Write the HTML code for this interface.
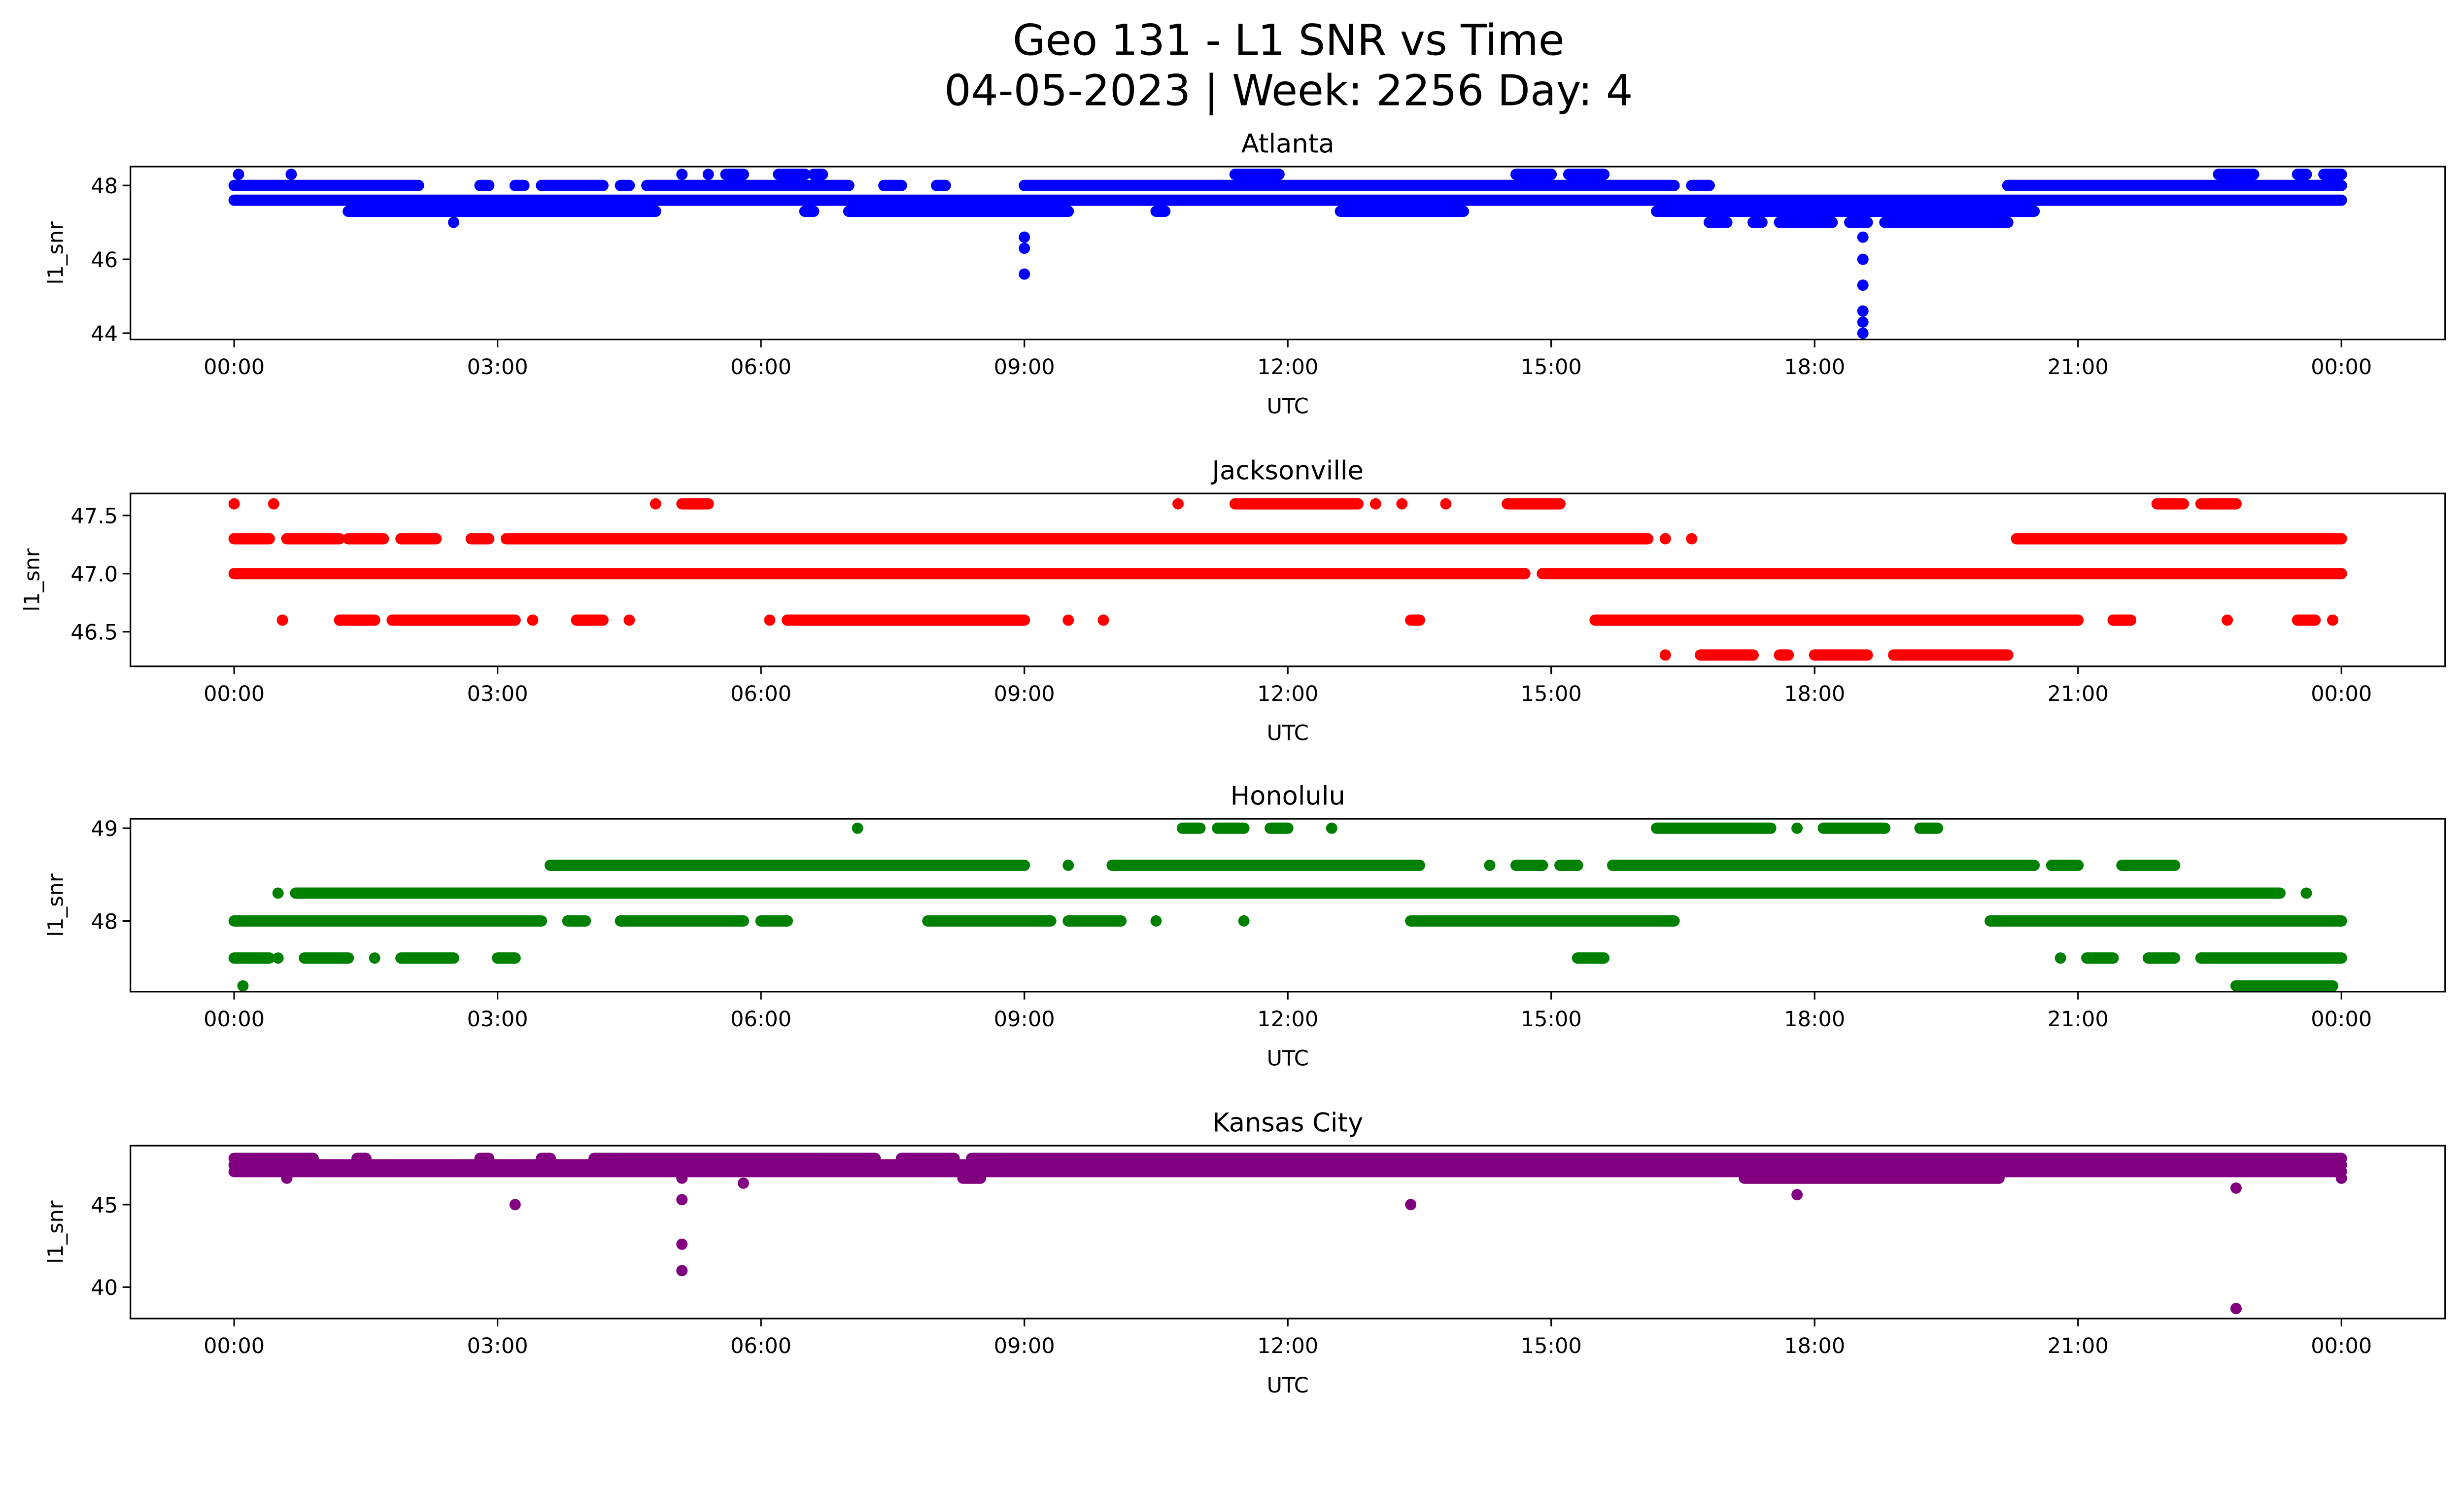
<!DOCTYPE html>
<html><head><meta charset="utf-8"><style>
html,body{margin:0;padding:0;background:#fff;overflow:hidden;width:100%;height:100%;}
svg{display:block;position:absolute;left:0;top:0;width:100vw;height:calc(100vw * 3033 / 5279);font-family:"DejaVu Sans","Liberation Sans",sans-serif;}
</style></head><body>
<svg id="chart" viewBox="0 0 1568 901" preserveAspectRatio="none" xmlns="http://www.w3.org/2000/svg">
<text x="820" y="35" font-size="27" text-anchor="middle">Geo 131 - L1 SNR vs Time</text>
<text x="820" y="67" font-size="27" text-anchor="middle">04-05-2023 | Week: 2256 Day: 4</text>
</svg>
<script>
// ---- data ----
const xTickLabels = ["00:00","03:00","06:00","09:00","12:00","15:00","18:00","21:00","00:00"];
const xTickHours = [0,3,6,9,12,15,18,21,24];

const atlTicks = [44,46,48];
const atlLevels = [48.3,48.0,47.6,47.3,47.0];
const atlRanges = [
 [[0.05,0.05],[0.65,0.65],[5.1,5.1],[5.4,5.4],[5.6,5.8],[6.2,6.5],[6.6,6.7],[11.4,11.9],[14.6,15.0],[15.2,15.6],[22.6,23.0],[23.5,23.6],[23.8,24]],
 [[0,2.1],[2.8,2.9],[3.2,3.3],[3.5,4.2],[4.4,4.5],[4.7,7.0],[7.4,7.6],[8.0,8.1],[9.0,16.4],[16.6,16.8],[20.2,24]],
 [[0,24]],
 [[1.3,4.8],[6.5,6.6],[7.0,9.5],[10.5,10.6],[12.6,14.0],[16.2,20.5]],
 [[2.5,2.5],[16.8,17.0],[17.3,17.4],[17.6,18.2],[18.4,18.6],[18.8,20.2]]
];
const atlOutT = [9.0,9.0,9.0,18.55,18.55,18.55,18.55,18.55,18.55,18.55];
const atlOutV = [46.6,46.3,45.6,47.0,46.6,46.0,45.3,44.6,44.3,44.0];

const jaxTicks = [46.5,47.0,47.5];
const jaxLevels = [47.6,47.3,47.0,46.6,46.3];
const jaxRanges = [
 [[0.0,0.0],[0.45,0.45],[4.8,4.8],[5.1,5.4],[10.75,10.75],[11.4,12.8],[13.0,13.0],[13.3,13.3],[13.8,13.8],[14.5,15.1],[21.9,22.2],[22.4,22.8]],
 [[0,0.4],[0.6,1.2],[1.3,1.7],[1.9,2.3],[2.7,2.9],[3.1,16.1],[16.3,16.3],[16.6,16.6],[20.3,24]],
 [[0,14.7],[14.9,24]],
 [[0.55,0.55],[1.2,1.6],[1.8,3.2],[3.4,3.4],[3.9,4.2],[4.5,4.5],[6.1,6.1],[6.3,9.0],[9.5,9.5],[9.9,9.9],[13.4,13.5],[15.5,21.0],[21.4,21.6],[22.7,22.7],[23.5,23.7],[23.9,23.9]],
 [[16.3,16.3],[16.7,17.3],[17.6,17.7],[18.0,18.6],[18.9,20.2]]
];
const jaxOutT = [];
const jaxOutV = [];

const honTicks = [48,49];
const honLevels = [49.0,48.6,48.3,48.0,47.6,47.3];
const honRanges = [
 [[7.1,7.1],[10.8,11.0],[11.2,11.5],[11.8,12.0],[12.5,12.5],[16.2,17.5],[17.8,17.8],[18.1,18.8],[19.2,19.4]],
 [[3.6,9.0],[9.5,9.5],[10.0,13.5],[14.3,14.3],[14.6,14.9],[15.1,15.3],[15.7,20.5],[20.7,21.0],[21.5,22.1]],
 [[0.5,0.5],[0.7,23.3],[23.6,23.6]],
 [[0,3.5],[3.8,4.0],[4.4,5.8],[6.0,6.3],[7.9,9.3],[9.5,10.1],[10.5,10.5],[11.5,11.5],[13.4,16.4],[20.0,24]],
 [[0,0.4],[0.5,0.5],[0.8,1.3],[1.6,1.6],[1.9,2.5],[3.0,3.2],[15.3,15.6],[20.8,20.8],[21.1,21.4],[21.8,22.1],[22.4,24]],
 [[0.1,0.1],[22.8,23.9]]
];
const honOutT = [];
const honOutV = [];

const kcTicks = [40,45];
const kcLevels = [47.8,47.4,47.0,46.6];
const kcRanges = [
 [[0,0.9],[1.4,1.5],[2.8,2.9],[3.5,3.6],[4.1,7.3],[7.6,8.2],[8.4,24]],
 [[0,24]],
 [[0,24]],
 [[0.6,0.6],[5.1,5.1],[8.3,8.5],[17.2,20.1],[24,24]]
];
const kcOutT = [3.2,5.1,5.1,5.1,5.8,13.4,17.8,22.8,22.8,24.0];
const kcOutV = [45.0,45.3,42.6,41.0,46.3,45.0,45.6,46.0,38.7,46.6];

// ---- layout ----
const panels = [
 {name:"atlanta",title:"Atlanta",color:"#0000ff",top:106,bot:216,yA:48,yApx:118,yB:44,yBpx:212,ticks:atlTicks,fmt:v=>String(v),levels:atlLevels,ranges:atlRanges,ot:atlOutT,ov:atlOutV,ylx:40},
 {name:"jacksonville",title:"Jacksonville",color:"#ff0000",top:314,bot:424,yA:47.5,yApx:328,yB:46.5,yBpx:402,ticks:jaxTicks,fmt:v=>v.toFixed(1),levels:jaxLevels,ranges:jaxRanges,ot:jaxOutT,ov:jaxOutV,ylx:25},
 {name:"honolulu",title:"Honolulu",color:"#008000",top:521,bot:631,yA:49,yApx:527,yB:48,yBpx:586,ticks:honTicks,fmt:v=>String(v),levels:honLevels,ranges:honRanges,ot:honOutT,ov:honOutV,ylx:40},
 {name:"kansas-city",title:"Kansas City",color:"#800080",top:729,bot:839,yA:45,yApx:766.5,yB:40,yBpx:819,ticks:kcTicks,fmt:v=>String(v),levels:kcLevels,ranges:kcRanges,ot:kcOutT,ov:kcOutV,ylx:40}
];
const L=83,R=1556,X0=149,X1=1490,MR=3.6;
const svg=document.getElementById('chart');
const NS="http://www.w3.org/2000/svg";
function mk(tag,attrs,parent){const e=document.createElementNS(NS,tag);for(const k in attrs)e.setAttribute(k,attrs[k]);(parent||svg).appendChild(e);return e;}
function xs(h){return X0+(X1-X0)*h/24;}

panels.forEach(p=>{
 const ys=v=>p.yApx+(v-p.yA)*(p.yBpx-p.yApx)/(p.yB-p.yA);
 const g=mk('g',{});
 
 
 const clipId='clip-'+p.name;
 const cp=mk('clipPath',{id:clipId},g);
 mk('rect',{x:L,y:p.top,width:R-L,height:p.bot-p.top},cp);
 const marks=mk('g',{'clip-path':'url(#'+clipId+')'},g);
 
 
 p.levels.forEach((lv,i)=>{
  p.ranges[i].forEach(r=>{
   const ln=mk('line',{x1:xs(r[0]),x2:xs(r[1]),y1:ys(lv),y2:ys(lv),stroke:p.color,'stroke-width':MR*2,'stroke-linecap':'round'},marks);
   
   
  });
 });
 p.ot.forEach((t,i)=>{
  const c=mk('circle',{cx:xs(t),cy:ys(p.ov[i]),r:MR,fill:p.color},marks);
  
  
 });
 const fr=mk('rect',{x:L,y:p.top,width:R-L,height:p.bot-p.top,fill:'none',stroke:'#000','stroke-width':1},g);
 
 
 xTickHours.forEach((h,i)=>{
  mk('line',{x1:xs(h),x2:xs(h),y1:p.bot,y2:p.bot+5,stroke:'#000','stroke-width':1},g);
  const t=mk('text',{x:xs(h),y:p.bot+22,'font-size':13.5,'text-anchor':'middle'},g);
  t.textContent=xTickLabels[i];
  
  
 });
 p.ticks.forEach(v=>{
  mk('line',{x1:L-5,x2:L,y1:ys(v),y2:ys(v),stroke:'#000','stroke-width':1},g);
  const t=mk('text',{x:L-8,y:ys(v)+5,'font-size':13.5,'text-anchor':'end'},g);
  t.textContent=p.fmt(v);
  
  
 });
 const ti=mk('text',{x:(L+R)/2,y:p.top-9,'font-size':16.5,'text-anchor':'middle'},g);
 ti.textContent=p.title;
 
 
 const xl=mk('text',{x:(L+R)/2,y:p.bot+47,'font-size':13.5,'text-anchor':'middle'},g);
 xl.textContent='UTC';
 
 
 const cy=(p.top+p.bot)/2;
 const yl=mk('text',{x:0,y:0,'font-size':13.5,'text-anchor':'middle',transform:'translate('+p.ylx+','+cy+') rotate(-90)'},g);
 yl.textContent='l1_snr';
 
 
});
</script>
</body></html>
